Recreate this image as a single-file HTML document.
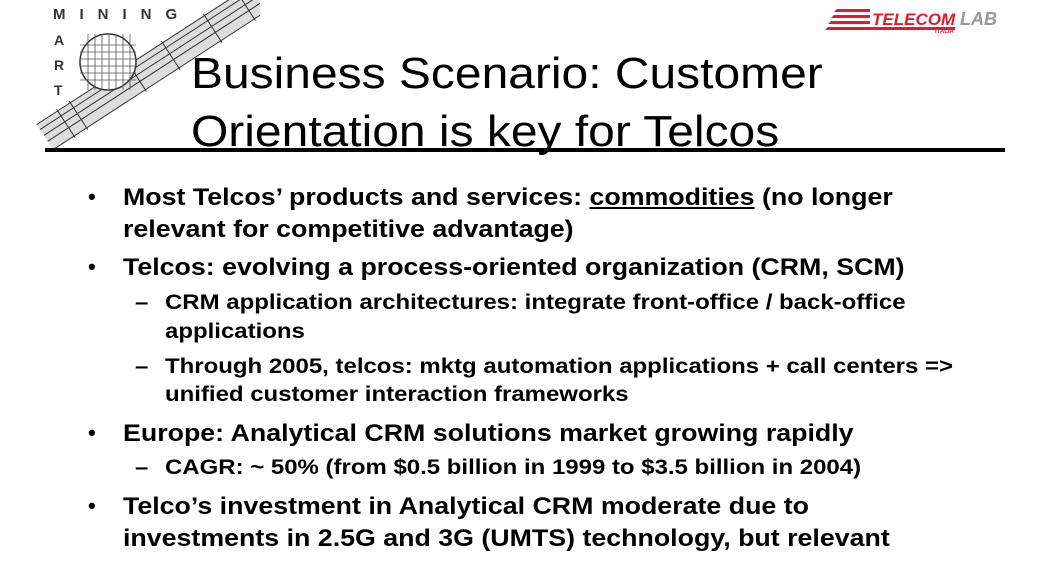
<!DOCTYPE html>
<html><head><style>
body{margin:0;width:1046px;height:580px;background:#fff;position:relative;overflow:hidden;font-family:"Liberation Sans",sans-serif}
.t{position:absolute;left:191px;font-size:44px;line-height:1;color:#000;white-space:nowrap;transform:scaleX(1.09);transform-origin:left}
.l{position:absolute;font-weight:bold;color:#000;white-space:nowrap;line-height:1;transform:scaleX(1.115);transform-origin:left}
.b{font-size:24px;left:123px}
.s{font-size:21.5px;left:165px}
.d{position:absolute;font-weight:bold;font-size:22px}
</style></head><body>
<svg width="260" height="160" style="position:absolute;left:0;top:0">
<g transform="translate(52,148) rotate(-33)">
<rect x="0" y="-28" width="260" height="30" fill="#ddd"/>
<g stroke="#333" stroke-width="1"><line x1="0" y1="-28" x2="260" y2="-28"/><line x1="0" y1="-22" x2="260" y2="-22"/><line x1="0" y1="-15" x2="260" y2="-15"/><line x1="0" y1="-8" x2="260" y2="-8"/><line x1="0" y1="2" x2="260" y2="2"/>
<line x1="25" y1="-30" x2="25" y2="4"/><line x1="40" y1="-30" x2="40" y2="4"/><line x1="110" y1="-30" x2="110" y2="4"/><line x1="150" y1="-30" x2="150" y2="4"/><line x1="200" y1="-30" x2="200" y2="4"/><line x1="240" y1="-30" x2="240" y2="4"/></g>
</g>
<circle cx="108" cy="62" r="28" fill="#fff" stroke="#333" stroke-width="1.5"/>
<g stroke="#555" stroke-width="0.8">
<line x1="80" y1="45" x2="136" y2="45"/><line x1="80" y1="52" x2="136" y2="52"/><line x1="80" y1="59" x2="136" y2="59"/><line x1="80" y1="66" x2="136" y2="66"/><line x1="80" y1="73" x2="136" y2="73"/><line x1="80" y1="80" x2="136" y2="80"/>
<line x1="88" y1="34" x2="88" y2="90"/><line x1="95" y1="34" x2="95" y2="90"/><line x1="102" y1="34" x2="102" y2="90"/><line x1="109" y1="34" x2="109" y2="90"/><line x1="116" y1="34" x2="116" y2="90"/><line x1="123" y1="34" x2="123" y2="90"/><line x1="130" y1="34" x2="130" y2="90"/></g>
<text x="53" y="19" font-family="Liberation Sans" font-weight="bold" font-size="15" fill="#333" letter-spacing="14">MINING</text>
<text x="54" y="45" font-family="Liberation Sans" font-weight="bold" font-size="14" fill="#333">A</text>
<text x="54" y="70" font-family="Liberation Sans" font-weight="bold" font-size="14" fill="#333">R</text>
<text x="54" y="95" font-family="Liberation Sans" font-weight="bold" font-size="14" fill="#333">T</text>
</svg>
<svg width="200" height="40" style="position:absolute;left:820px;top:0">
<g fill="#e11b2b"><polygon points="5,30 50,30 50,27 8,27"/><polygon points="8,24 50,24 50,21 11,21"/><polygon points="11,18 50,18 50,15 14,15"/><polygon points="14,12 50,12 50,9 17,9"/><rect x="50" y="27" width="85" height="3"/></g>
<text x="52" y="25" font-family="Liberation Sans" font-weight="bold" font-style="italic" font-size="17" fill="#e11b2b">TELECOM</text>
<text x="140" y="25" font-family="Liberation Sans" font-weight="bold" font-style="italic" font-size="18" fill="#999">LAB</text>
<text x="115" y="33" font-family="Liberation Sans" font-weight="bold" font-size="6" fill="#e11b2b">ITALIA</text>
</svg>
<div class="t" style="top:52px">Business Scenario: Customer</div>
<div class="t" style="top:110px">Orientation is key for Telcos</div>
<div style="position:absolute;left:45px;top:148px;width:960px;height:4px;background:#000"></div>

<div class="d" style="left:88px;top:184px">•</div>
<div class="l b" style="top:186px">Most Telcos’ products and services: <u>commodities</u> (no longer</div>
<div class="l b" style="top:218px">relevant for competitive advantage)</div>
<div class="d" style="left:88px;top:254px">•</div>
<div class="l b" style="top:256px">Telcos: evolving a process-oriented organization (CRM, SCM)</div>
<div class="l s" style="left:135px;top:292px">–</div>
<div class="l s" style="top:292px">CRM application architectures: integrate front-office / back-office</div>
<div class="l s" style="top:321px">applications</div>
<div class="l s" style="left:135px;top:356px">–</div>
<div class="l s" style="top:356px">Through 2005, telcos: mktg automation applications + call centers =&gt;</div>
<div class="l s" style="top:384px">unified customer interaction frameworks</div>
<div class="d" style="left:88px;top:420px">•</div>
<div class="l b" style="top:422px">Europe: Analytical CRM solutions market growing rapidly</div>
<div class="l s" style="left:135px;top:457px">–</div>
<div class="l s" style="top:457px">CAGR: ~ 50% (from $0.5 billion in 1999 to $3.5 billion in 2004)</div>
<div class="d" style="left:88px;top:493px">•</div>
<div class="l b" style="top:495px">Telco’s investment in Analytical CRM moderate due to</div>
<div class="l b" style="top:527px">investments in 2.5G and 3G (UMTS) technology, but relevant</div>
</body></html>
